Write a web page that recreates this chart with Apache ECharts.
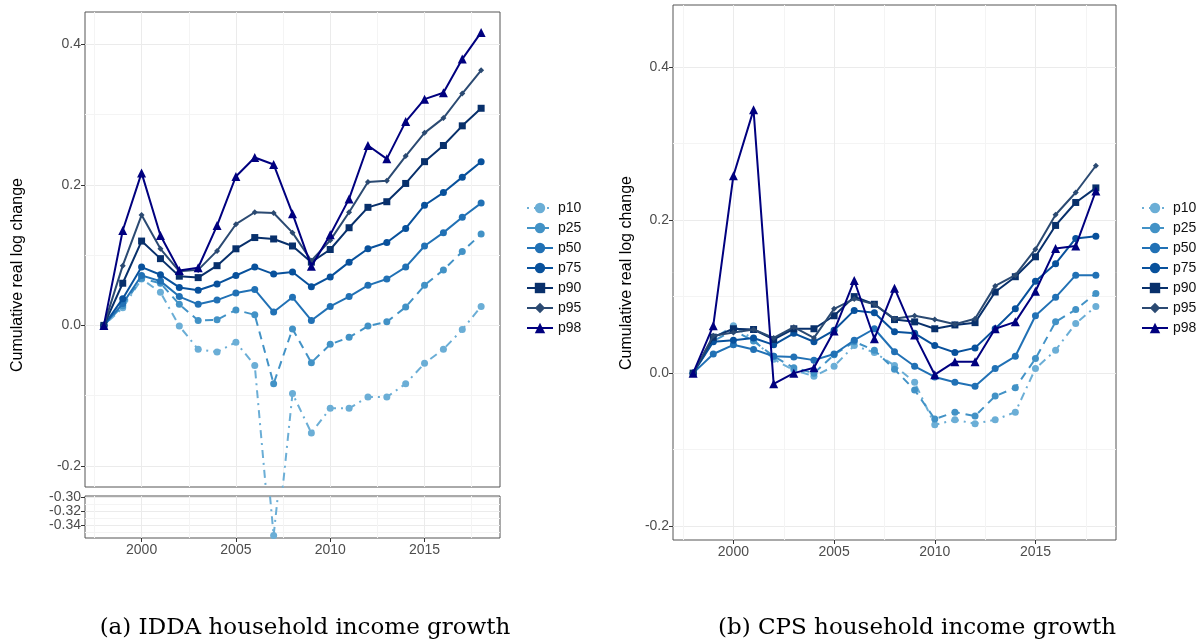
<!DOCTYPE html>
<html>
<head>
<meta charset="utf-8">
<script src="https://cdn.jsdelivr.net/npm/echarts@6/dist/echarts.min.js"></script>
<style>
html,body{margin:0;padding:0;background:#fff;}
#chart{width:1203px;height:641px;}
</style>
</head>
<body>
<div id="chart"></div>
<script>
// ---------- data ----------
const years = [1998,1999,2000,2001,2002,2003,2004,2005,2006,2007,2008,2009,2010,2011,2012,2013,2014,2015,2016,2017,2018];
const seriesNames = ['p10','p25','p50','p75','p90','p95','p98'];

// (a) IDDA household income growth
const iddaP10 = [0, 0.025, 0.066, 0.047, -0.001, -0.034, -0.038, -0.024, -0.057, -0.355, -0.097, -0.153, -0.118, -0.118, -0.102, -0.102, -0.083, -0.054, -0.034, -0.006, 0.027];
const iddaP25 = [0, 0.028, 0.067, 0.060, 0.030, 0.007, 0.008, 0.022, 0.015, -0.083, -0.005, -0.053, -0.027, -0.017, -0.001, 0.005, 0.026, 0.057, 0.079, 0.105, 0.130];
const iddaP50 = [0, 0.031, 0.071, 0.063, 0.041, 0.030, 0.036, 0.046, 0.051, 0.019, 0.040, 0.007, 0.027, 0.041, 0.057, 0.066, 0.083, 0.113, 0.132, 0.154, 0.174];
const iddaP75 = [0, 0.038, 0.083, 0.072, 0.054, 0.050, 0.059, 0.071, 0.083, 0.073, 0.076, 0.055, 0.069, 0.090, 0.109, 0.118, 0.138, 0.171, 0.189, 0.211, 0.233];
const iddaP90 = [0, 0.060, 0.120, 0.095, 0.070, 0.068, 0.085, 0.109, 0.125, 0.123, 0.113, 0.090, 0.108, 0.139, 0.168, 0.176, 0.202, 0.233, 0.256, 0.284, 0.309];
const iddaP95 = [0, 0.085, 0.157, 0.109, 0.077, 0.079, 0.106, 0.144, 0.161, 0.160, 0.132, 0.092, 0.121, 0.161, 0.204, 0.206, 0.241, 0.274, 0.295, 0.330, 0.363];
const iddaP98 = [0, 0.135, 0.217, 0.128, 0.078, 0.082, 0.142, 0.212, 0.239, 0.229, 0.159, 0.084, 0.129, 0.180, 0.256, 0.237, 0.290, 0.322, 0.331, 0.379, 0.417];

// (b) CPS household income growth
const cpsP10 = [0, 0.045, 0.062, 0.044, 0.018, 0.004, -0.004, 0.009, 0.036, 0.027, 0.010, -0.012, -0.0675, -0.061, -0.066, -0.061, -0.051, 0.006, 0.030, 0.065, 0.087];
const cpsP25 = [0, 0.042, 0.056, 0.042, 0.022, 0.007, 0.000, 0.024, 0.041, 0.030, 0.005, -0.022, -0.060, -0.051, -0.056, -0.030, -0.019, 0.019, 0.067, 0.083, 0.104];
const cpsP50 = [0, 0.025, 0.037, 0.031, 0.022, 0.021, 0.017, 0.025, 0.043, 0.058, 0.028, 0.009, -0.005, -0.012, -0.017, 0.006, 0.022, 0.075, 0.099, 0.128, 0.128];
const cpsP75 = [0, 0.041, 0.043, 0.046, 0.037, 0.052, 0.041, 0.056, 0.082, 0.079, 0.054, 0.052, 0.036, 0.027, 0.033, 0.058, 0.084, 0.120, 0.143, 0.176, 0.179];
const cpsP90 = [0, 0.047, 0.058, 0.057, 0.044, 0.058, 0.058, 0.075, 0.100, 0.090, 0.070, 0.067, 0.058, 0.063, 0.066, 0.106, 0.126, 0.152, 0.193, 0.223, 0.242];
const cpsP95 = [0, 0.049, 0.053, 0.057, 0.046, 0.060, 0.046, 0.084, 0.097, 0.090, 0.071, 0.075, 0.070, 0.064, 0.071, 0.114, 0.128, 0.162, 0.207, 0.236, 0.271];
const cpsP98 = [0, 0.062, 0.258, 0.344, -0.014, 0.000, 0.007, 0.055, 0.121, 0.045, 0.111, 0.050, -0.002, 0.015, 0.015, 0.058, 0.067, 0.107, 0.163, 0.166, 0.238];

// tick labels
const xTicks = [2000, 2005, 2010, 2015];
const xMinor = [1997.5, 2002.5, 2007.5, 2012.5, 2017.5];
const yTicks = [-0.2, 0.0, 0.2, 0.4];
const yMinor = [-0.1, 0.1, 0.3];
const yBreakTicksOuter = [-0.34, -0.30];
const yBreakTicksMid = [-0.32];
const yBreakMinor = [-0.35, -0.33, -0.31];

const captionA = '(a) IDDA household income growth';
const captionB = '(b) CPS household income growth';
const yTitle = 'Cumulative real log change';

// ---------- styles ----------
const colors = ['#6baed6','#4292c6','#2171b5','#08519c','#08306b','#2b4a72','#00007f'];
const dashes = [[2,5,8,5],[8,6],'solid','solid','solid','solid','solid'];
const symbols = ['circle','circle','circle','circle','rect','diamond','triangle'];
const symSizes = [7,7,7,7,7,6,9];

const idda = [iddaP10,iddaP25,iddaP50,iddaP75,iddaP90,iddaP95,iddaP98];
const cps = [cpsP10,cpsP25,cpsP50,cpsP75,cpsP90,cpsP95,cpsP98];

function pairs(vals){ return years.map((y,i)=>[y, vals[i]]); }

function makeSeries(i, vals, xi, yi){
  return {
    name: seriesNames[i], type: 'line', xAxisIndex: xi, yAxisIndex: yi,
    data: pairs(vals), clip: true,
    symbol: symbols[i], symbolSize: symSizes[i], showSymbol: true,
    lineStyle: {color: colors[i], width: 2, type: dashes[i]},
    itemStyle: {color: colors[i], borderWidth: 0},
    emphasis: {disabled: true}, animation: false, z: 2 + i
  };
}

const FONT = 'Liberation Sans, Arial, sans-serif';
const gridLine = '#ebebeb';
const minorLine = '#f4f4f4';

function xMain(grid, labels){
  return {
    type:'value', gridIndex: grid, min:1997, max:2019, position:'bottom',
    axisLine:{show:false, onZero:false},
    axisTick:{show:labels, customValues:xTicks, length:4, lineStyle:{color:'#333'}},
    axisLabel:{show:labels, customValues:xTicks, color:'#4d4d4d', fontSize:14, fontFamily:FONT, margin:5,
      hideOverlap:false, formatter: v => String(Math.round(v))},
    splitLine:{show:true, lineStyle:{color:gridLine, width:1}}
  };
}
function xMinorAx(grid){
  return {
    type:'value', gridIndex: grid, min:1997, max:2019, position:'top',
    axisLine:{show:false, onZero:false}, axisTick:{show:false, customValues:xMinor}, axisLabel:{show:false, customValues:xMinor},
    splitLine:{show:true, lineStyle:{color:minorLine, width:1}}
  };
}
function yMain(grid, min, max, ticks, dec, fs){
  return {
    type:'value', gridIndex: grid, min:min, max:max, position:'left',
    axisLine:{show:false, onZero:false},
    axisTick:{show:true, customValues:ticks, length:4, lineStyle:{color:'#333'}},
    axisLabel:{show:true, customValues:ticks, color:'#4d4d4d', fontSize:fs, fontFamily:FONT, margin:4,
      hideOverlap:false, showMinLabel:true, showMaxLabel:true,
      formatter: v => (Math.abs(v) < 1e-9 ? 0 : v).toFixed(dec)},
    splitLine:{show:true, lineStyle:{color:gridLine, width:1}}
  };
}
function yMinorAx(grid, min, max, ticks){
  return {
    type:'value', gridIndex: grid, min:min, max:max, position:'right',
    axisLine:{show:false, onZero:false}, axisTick:{show:false, customValues:ticks}, axisLabel:{show:false, customValues:ticks},
    splitLine:{show:true, lineStyle:{color:minorLine, width:1}}
  };
}

const series = [];
for (let i=0;i<7;i++) series.push(makeSeries(i, idda[i], 0, 0));
series.push(makeSeries(0, idda[0], 2, 2));
for (let i=0;i<7;i++) series.push(makeSeries(i, cps[i], 4, 5));

function legendAt(left){
  return {
    orient:'vertical', left:left, top:196, itemWidth:26, itemHeight:13, itemGap:6,
    data: seriesNames, selectedMode:false,
    textStyle:{fontSize:14, fontFamily:FONT, color:'#111', padding:[0,0,0,0]}
  };
}

const option = {
  animation:false,
  backgroundColor:'#fff',
  grid:[
    {left:85, top:12, width:415, height:475, show:true, borderColor:'#555', borderWidth:1, backgroundColor:'transparent'},
    {left:85, top:496, width:415, height:42, show:true, borderColor:'#555', borderWidth:1, backgroundColor:'transparent'},
    {left:673, top:5, width:443, height:535, show:true, borderColor:'#555', borderWidth:1, backgroundColor:'transparent'}
  ],
  xAxis:[ xMain(0,false), xMinorAx(0), xMain(1,true), xMinorAx(1), xMain(2,true), xMinorAx(2) ],
  yAxis:[
    yMain(0, -0.23, 0.446, yTicks, 1, 14), yMinorAx(0, -0.23, 0.446, yMinor),
    yMain(1, -0.3586, -0.2977, yBreakTicksOuter, 2, 14), yMain(1, -0.3586, -0.2977, yBreakTicksMid, 2, 14),
    yMinorAx(1, -0.3586, -0.2977, yBreakMinor),
    yMain(2, -0.218, 0.481, yTicks, 1, 14), yMinorAx(2, -0.218, 0.481, yMinor)
  ],
  legend:[ legendAt(521), legendAt(1136) ],
  series: series,
  graphic:[
    {type:'text', x:18, y:275, rotation:Math.PI/2, style:{text:yTitle, fontSize:16, fontFamily:FONT, fill:'#000', align:'center', verticalAlign:'middle'}},
    {type:'text', x:627, y:273, rotation:Math.PI/2, style:{text:yTitle, fontSize:16, fontFamily:FONT, fill:'#000', align:'center', verticalAlign:'middle'}},
    {type:'text', x:305, y:628, style:{text:captionA, fontSize:23, fontFamily:'DejaVu Serif, serif', fill:'#000', align:'center', verticalAlign:'middle'}},
    {type:'text', x:917, y:628, style:{text:captionB, fontSize:23, fontFamily:'DejaVu Serif, serif', fill:'#000', align:'center', verticalAlign:'middle'}}
  ]
};

const chart = echarts.init(document.getElementById('chart'), null, {renderer:'canvas'});
chart.setOption(option);
</script>
</body>
</html>
